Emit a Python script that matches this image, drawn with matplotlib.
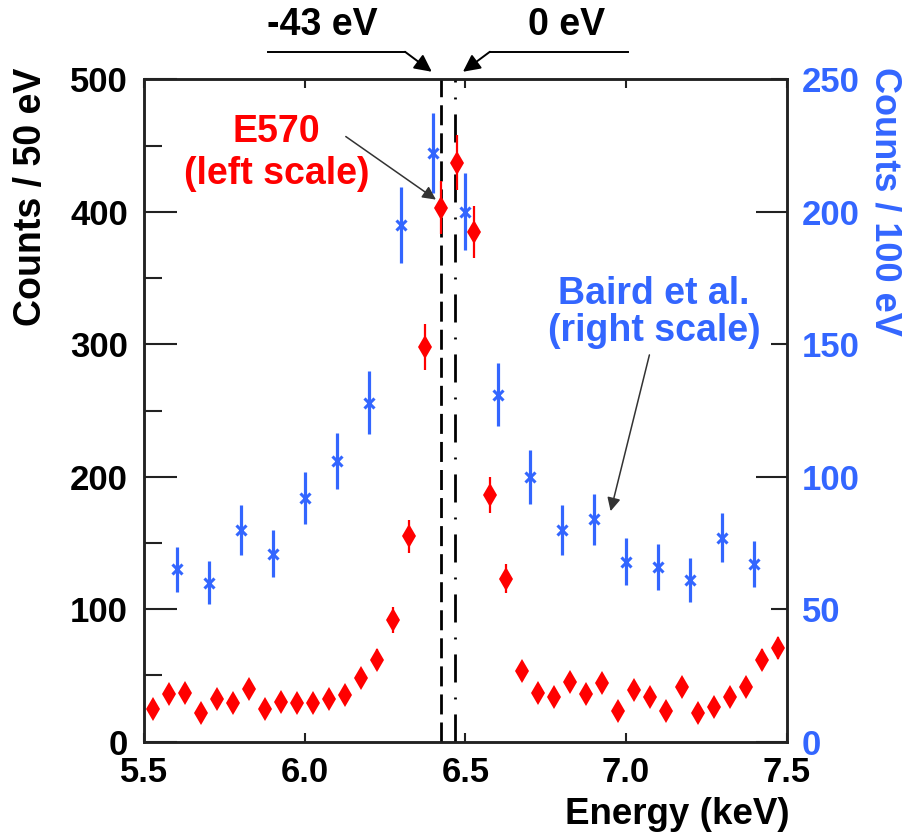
import numpy as np
import matplotlib
matplotlib.use("Agg")
import matplotlib.pyplot as plt
from matplotlib.ticker import FixedLocator, FixedFormatter

plt.rcParams['font.family'] = ['Liberation Sans', 'DejaVu Sans']
plt.rcParams['font.weight'] = 'bold'

# E570 spectrum, 50 eV bins (left scale)
e570_energy = [5.525, 5.575, 5.625, 5.675, 5.725, 5.775, 5.825, 5.875, 5.925, 5.975,
               6.025, 6.075, 6.125, 6.175, 6.225, 6.275, 6.325, 6.375, 6.425, 6.475,
               6.525, 6.575, 6.625, 6.675, 6.725, 6.775, 6.825, 6.875, 6.925, 6.975,
               7.025, 7.075, 7.125, 7.175, 7.225, 7.275, 7.325, 7.375, 7.425, 7.475]
e570_counts = [25, 36, 37, 22, 32, 29, 40, 25, 30, 29,
               29, 32, 35, 48, 62, 92, 155, 298, 403, 437,
               385, 186, 123, 53, 37, 34, 45, 36, 44, 23,
               39, 34, 23, 41, 22, 26, 34, 41, 62, 71]
e570_err = [5, 6, 6, 4.7, 5.7, 5.4, 6.3, 5, 5.5, 5.4,
            5.4, 5.7, 5.9, 6.9, 7.9, 9.6, 12.4, 17.3, 20, 20.9,
            19.6, 13.6, 11.1, 7.3, 6.1, 5.8, 6.7, 6, 6.6, 4.8,
            6.2, 5.8, 4.8, 6.4, 4.7, 5.1, 5.8, 6.4, 7.9, 8.4]

# Baird et al. spectrum, 100 eV bins (right scale)
baird_energy = [5.6, 5.7, 5.8, 5.9, 6.0, 6.1, 6.2, 6.3, 6.4, 6.5,
                6.6, 6.7, 6.8, 6.9, 7.0, 7.1, 7.2, 7.3, 7.4]
baird_counts = [65, 60, 80, 71, 92, 106, 128, 195, 222, 200,
                131, 100, 80, 84, 68, 66, 61, 77, 67]
baird_err = [8.5, 8.2, 9.4, 8.8, 9.9, 10.6, 11.8, 14.3, 15.1, 14.6,
             11.8, 10.2, 9.4, 9.6, 8.7, 8.6, 8.2, 9.2, 8.7]

# Reference line energies (keV)
line_minus43 = 6.424
line_zero = 6.467

left_ticks = [0, 100, 200, 300, 400, 500]
right_major = [0, 100, 200]
right_minor = [50, 150, 250]
x_ticks = [5.5, 6.0, 6.5, 7.0, 7.5]

RED = '#ff0000'
BLUE = '#3366ff'
FS_TICK = 25
FS_TITLE = 26.5
FS_NOTE = 27

fig = plt.figure(figsize=(9.03, 8.33), dpi=100)
ax = fig.add_axes([0.160, 0.1096, 0.711, 0.7952])
ax2 = ax.twinx()

ax.set_xlim(5.5, 7.5)
ax.set_ylim(0, 500)
ax2.set_ylim(0, 250)

# vertical reference lines
ax.axvline(line_minus43, color='black', lw=2, dashes=(7.2, 2.9), zorder=1)
ax.axvline(line_zero, color='black', lw=2, dashes=(10.1, 5.4, 0.7, 5.4), zorder=1)

# Baird et al. data
ax2.errorbar(baird_energy, baird_counts, yerr=baird_err, fmt='x', color=BLUE,
             ms=7, mew=2.2, elinewidth=2.3, capsize=0, zorder=3)
# E570 data
ax.errorbar(e570_energy, e570_counts, yerr=e570_err, fmt='d', color=RED,
            ms=12.5, mew=0, elinewidth=1.6, capsize=0, zorder=4)
ax.set_zorder(ax2.get_zorder() + 1)
ax.patch.set_visible(False)

# axes styling
for a in (ax, ax2):
    for s in a.spines.values():
        s.set_linewidth(1.8)
        s.set_color('#222222')

ax.set_xticks(x_ticks)
ax.set_xticklabels(['%.1f' % v for v in x_ticks])
ax.set_yticks(left_ticks)
ax.set_yticklabels([str(v) for v in left_ticks])
ax.yaxis.set_minor_locator(FixedLocator([50, 150, 250, 350, 450]))
ax.tick_params(axis='x', which='major', direction='in', length=6.5, width=1.5,
               top=True, labelsize=FS_TICK, pad=10, color='#222222')
ax.tick_params(axis='y', which='major', direction='in', length=23.8, width=1.5,
               labelsize=FS_TICK, pad=12, color='#222222')
ax.tick_params(axis='y', which='minor', direction='in', length=13, width=1.5,
               color='#222222')

ax2.yaxis.set_major_locator(FixedLocator(right_major))
ax2.yaxis.set_major_formatter(FixedFormatter([str(v) for v in right_major]))
ax2.yaxis.set_minor_locator(FixedLocator(right_minor))
ax2.yaxis.set_minor_formatter(FixedFormatter([str(v) for v in right_minor]))
ax2.tick_params(axis='y', which='major', direction='in', length=22, width=1.5,
                labelsize=FS_TICK, pad=11, labelcolor=BLUE, color='#222222')
ax2.tick_params(axis='y', which='minor', direction='in', length=11.5, width=1.5,
                labelsize=FS_TICK, pad=11, labelcolor=BLUE, color='#222222')

# axis titles
ax.text(-0.177, 0.823, 'Counts / 50 eV', rotation=90, ha='center', va='center',
        fontsize=27, fontweight='bold', transform=ax.transAxes)
ax.text(1.154, 0.815, 'Counts / 100 eV', rotation=-90, ha='center', va='center',
        fontsize=26, fontweight='bold', color=BLUE, transform=ax.transAxes)
ax.text(1.0055, -0.124, 'Energy (keV)', ha='right', va='baseline',
        fontsize=FS_TITLE, fontweight='bold', transform=ax.transAxes)

# series labels with arrows
ax.text(0.206, 0.842, 'E570\n(left scale)', ha='center', va='baseline',
        multialignment='center', color=RED, fontsize=FS_NOTE, fontweight='bold',
        linespacing=1.2, transform=ax.transAxes)
ax.annotate('', xy=(6.415, 408), xytext=(6.12, 458),
            arrowprops=dict(arrowstyle='-|>', color='#333333', lw=1.1,
                            mutation_scale=20))
ax.text(0.7936, 0.605, 'Baird et al.\n(right scale)', ha='center', va='baseline',
        multialignment='center', color=BLUE, fontsize=FS_NOTE, fontweight='bold',
        linespacing=1.05, transform=ax.transAxes)
ax.annotate('', xy=(6.95, 86), xytext=(7.075, 147),
            xycoords=ax2.transData, textcoords=ax2.transData,
            arrowprops=dict(arrowstyle='-|>', color='#333333', lw=1.1,
                            mutation_scale=20))

# markers for the two reference energies above the frame
y_bar, y_tip = 520.8, 505.7
ax.plot([5.885, 6.3115], [y_bar, y_bar], color='black', lw=1.4, clip_on=False)
ax.annotate('', xy=(line_minus43 - 0.029, y_tip), xytext=(6.3115, y_bar),
            annotation_clip=False,
            arrowprops=dict(arrowstyle='-|>', color='black', lw=1.4,
                            mutation_scale=26, shrinkA=0, shrinkB=0))
ax.plot([6.576, 7.006], [y_bar, y_bar], color='black', lw=1.4, clip_on=False)
ax.annotate('', xy=(line_zero + 0.025, y_tip), xytext=(6.576, y_bar),
            annotation_clip=False,
            arrowprops=dict(arrowstyle='-|>', color='black', lw=1.4,
                            mutation_scale=26, shrinkA=0, shrinkB=0))
ax.text(0.2765, 1.0669, '-43 eV', ha='center', va='baseline', fontsize=FS_NOTE,
        fontweight='bold', transform=ax.transAxes)
ax.text(0.658, 1.0669, '0 eV', ha='center', va='baseline', fontsize=FS_NOTE,
        fontweight='bold', transform=ax.transAxes)

fig.savefig('out.png', dpi=100)
